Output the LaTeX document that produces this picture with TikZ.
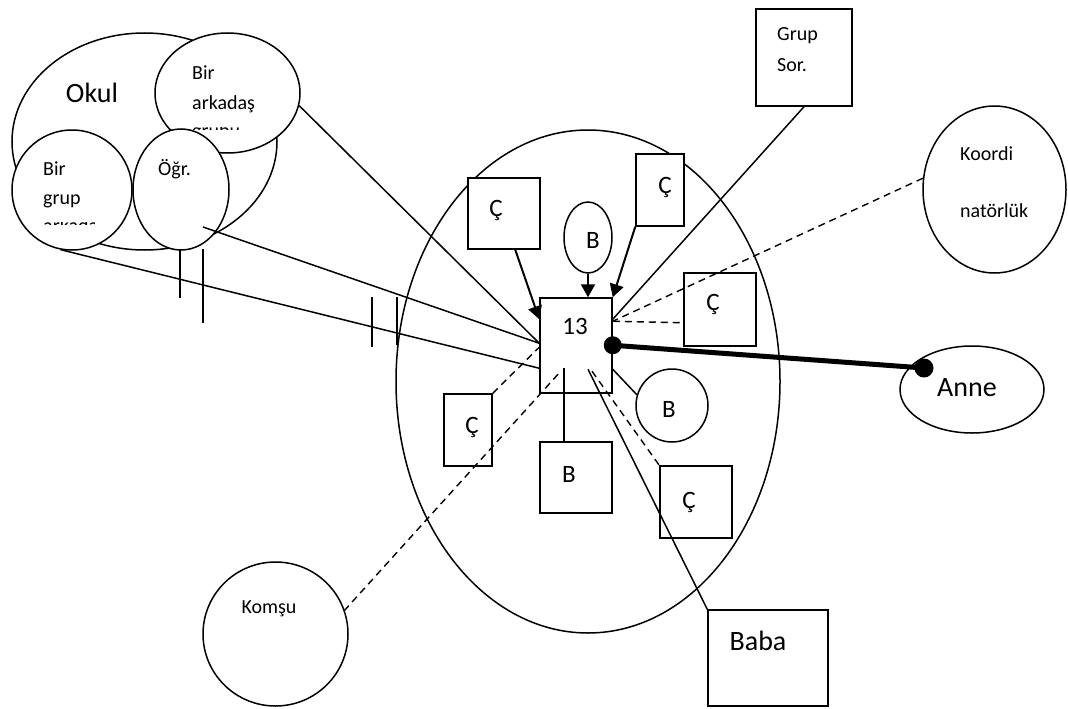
\documentclass[tikz,border=0pt]{standalone}
\usepackage{fontspec}
\setmainfont{Carlito}
\usetikzlibrary{arrows.meta,calc,shapes.geometric}
\newcommand\fsBig{\fontsize{28}{33}\selectfont}
\newcommand\fsMid{\fontsize{25}{30}\selectfont}
\newcommand\fsSml{\fontsize{20}{24}\selectfont}
\tikzset{
  thin line/.style={line width=1.5pt},
  ell/.style={ellipse, draw, line width=1.5pt, fill=white, inner sep=0pt},
  boxshape/.style={rectangle, draw, line width=1.5pt, fill=white, inner sep=0pt},
  dashline/.style={line width=1.4pt, dash pattern=on 7pt off 5pt},
  arrowline/.style={line width=2pt, -{Triangle[length=13pt,width=14pt]}},
  txt/.style={inner sep=0pt, anchor=base},
  txtw/.style={inner sep=0pt, anchor=base west},
}
\begin{document}
\begin{tikzpicture}[x=1pt,y=-1pt]
\useasboundingbox (0,0) rectangle (1068,709);

% big ellipse
\node[ell, fill=none, minimum width=384pt, minimum height=503pt] (big) at (588,381.5) {};

% Okul group
\node[ell, minimum width=265pt, minimum height=217pt] (okul) at (144.5,141.5) {};
\node[txt] (okult) at (92,102) {\fsBig Okul};
\node[ell, minimum width=145pt, minimum height=120pt] (ark) at (227.5,93) {};
\node[txtw] (arkt1) at (192,80) {\fsSml Bir};
\node[txtw] (arkt2) at (192,110) {\fsSml arkadaş};
\begin{scope}
\clip (185,127.3) rectangle (240,129.6);
\node[txtw] (arkt3) at (192,137.3) {\fsSml grubu};
\end{scope}
\node[ell, minimum width=120pt, minimum height=120pt] (grp) at (72,190) {};
\node[txtw] (grpt1) at (43,175) {\fsSml Bir};
\node[txtw] (grpt2) at (43,204) {\fsSml grup};
\begin{scope}
\clip (38,222.3) rectangle (94,224.6);
\node[txtw] (grpt3) at (43,232.3) {\fsSml arkadaş};
\end{scope}
\node[ell, minimum width=96pt, minimum height=121pt] (ogr) at (181,189.5) {};
\node[txtw] (ogrt) at (158,175) {\fsSml Öğr.};

% center box 13
\node[boxshape, minimum width=72pt, minimum height=95pt] (n13) at (576,345.5) {};
\node[txt] (n13t) at (575,334) {\fsMid 13};

% surrounding nodes
\node[boxshape, minimum width=72pt, minimum height=71pt] (cTL) at (504,213.5) {};
\node[txt] (cTLt) at (496,216) {\fsMid Ç};
\node[ell, minimum width=48pt, minimum height=71pt] (bov) at (588,237.5) {};
\node[txt] (bovt) at (593,248) {\fsMid B};
\node[boxshape, minimum width=48pt, minimum height=72pt] (cTR) at (660,190) {};
\node[txt] (cTRt) at (665,193) {\fsMid Ç};
\node[boxshape, minimum width=96pt, minimum height=97pt] (gs) at (804,57.5) {};
\node[txtw] (gst1) at (777,41) {\fsSml Grup};
\node[txtw] (gst2) at (777,72) {\fsSml Sor.};
\node[ell, minimum width=143pt, minimum height=167pt] (koo) at (994.5,189.5) {};
\node[txtw] (koot1) at (960,160) {\fsSml Koordi};
\node[txtw] (koot2) at (960,217) {\fsSml natörlük};
\node[boxshape, minimum width=72pt, minimum height=73pt] (cR) at (720,309.5) {};
\node[txt] (cRt) at (713,310) {\fsMid Ç};
\node[ell, minimum width=144pt, minimum height=87pt] (anne) at (972,389.5) {};
\node[txt] (annet) at (967,396) {\fsBig Anne};
\node[ell, minimum width=72pt, minimum height=73pt] (bci) at (672,405.5) {};
\node[txt] (bcit) at (669,417) {\fsMid B};
\node[boxshape, minimum width=72pt, minimum height=71pt] (bbx) at (576,477.5) {};
\node[txt] (bbxt) at (569,482) {\fsMid B};
\node[boxshape, minimum width=48pt, minimum height=72pt] (cL) at (468,430) {};
\node[txt] (cLt) at (472,433) {\fsMid Ç};
\node[boxshape, minimum width=72pt, minimum height=72pt] (cBR) at (696,502) {};
\node[txt] (cBRt) at (689,508) {\fsMid Ç};
\node[boxshape, minimum width=120pt, minimum height=96pt] (baba) at (768,658) {};
\node[txt] (babat) at (758,650) {\fsBig Baba};
\node[ell, minimum width=145pt, minimum height=144pt] (kom) at (275.5,634) {};
\node[txt] (komt) at (269,613) {\fsSml Komşu};

% connectors from the Okul group
\draw[thin line] (ark.-10) -- ($(n13.north west)+(0,46)$);
\draw[thin line] ($(ogr.center)+(22,37.5)$) -- ($(n13.north west)+(0,46)$);
\draw[thin line] (grp.-101) -- ($(n13.north west)+(0,71)$);
% double bars
\coordinate (b1a) at (180,250); \coordinate (b1b) at (180,298);
\coordinate (b2a) at (203,249); \coordinate (b2b) at (203,323);
\coordinate (b3a) at (372,297); \coordinate (b3b) at (372,347);
\coordinate (b4a) at (397,297); \coordinate (b4b) at (397,345);
\draw[thin line] (b1a) -- (b1b);
\draw[thin line] (b2a) -- (b2b);
\draw[thin line] (b3a) -- (b3b);
\draw[thin line] (b4a) -- (b4b);

% arrows into 13
\draw[arrowline] ($(cTL.south west)+(48,0)$) -- ($(n13.north west)+(0,22)$);
\draw[arrowline] (bov.south) -- ($(n13.north)+(12,0)$);
\draw[arrowline] (cTR.south west) -- (n13.north east);

% other connectors
\coordinate (anneDot) at ($(anne.center)+(-48,-21.5)$);
\coordinate (n13Dot) at ($(n13.north east)+(0,48)$);
\draw[thin line] (gs.south) -- ($(n13.north east)+(0,22)$);
\draw[dashline] (koo.171) -- ($(n13.north east)+(0,24)$);
\draw[dashline] ($(n13.north east)+(0,24)$) -- ($(cR.south west)+(0,-24)$);
\draw[line width=5pt] (n13Dot) -- (anneDot);
\fill (n13Dot) circle (9);
\fill (anneDot) circle (9.5);
\draw[thin line] ($(n13.north east)+(0,72)$) -- (bci.163);
\draw[thin line] ($(n13.north)+(-12,71)$) -- ($(bbx.north)+(-12,0)$);
\draw[thin line] ($(n13.north)+(12,72)$) -- (baba.north west);
\draw[dashline] ($(n13.north)+(16,74)$) -- (cBR.north west);
\draw[dashline] (cL.north east) -- ($(n13.north west)+(0,50)$);
\draw[dashline] ($(n13.north)+(-18,77)$) -- (kom.19);
\end{tikzpicture}
\end{document}
